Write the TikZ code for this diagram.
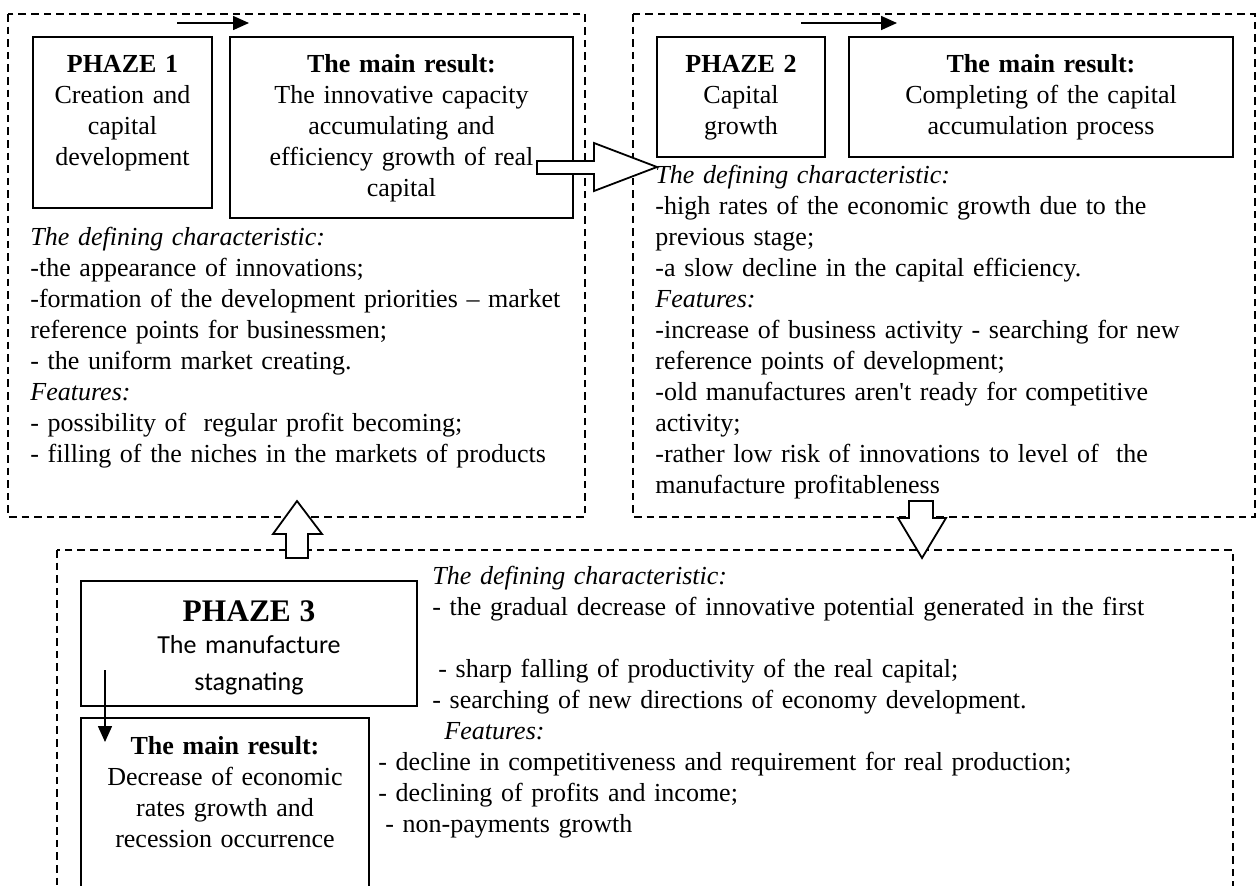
\documentclass[tikz,border=0pt]{standalone}
\usepackage{fontspec}
\setmainfont{Liberation Serif}
\newfontfamily\calfont{Carlito}
\usetikzlibrary{arrows.meta}

\tikzset{
  dashbox/.style={draw, line width=0.7pt, dash pattern=on 3.8pt off 2.5pt},
  rbox/.style={draw, line width=0.9pt, inner sep=0pt},
  txt/.style={anchor=base west, inner sep=0pt, text width=#1, align=left,
    font=\fontsize{13}{15.5}\selectfont},
  ctxt/.style={anchor=base, inner sep=0pt, text width=#1, align=center,
    font=\fontsize{13}{15.5}\selectfont},
  hollow/.style={draw, fill=white, line width=0.9pt, line join=miter},
  thin/.style={-{Triangle[length=8pt,width=7pt]}, line width=0.8pt},
}

\begin{document}
\begin{tikzpicture}[x=0.5pt, y=-0.5pt]
\clip (0,0) rectangle (1257,885);

% the three stages
\draw[dashbox] (8,14) rectangle (585,517);
\draw[dashbox] (633,14) rectangle (1255,517);
\draw[dashbox] (57,550) rectangle (1233,900);

% boxes
\node[rbox, minimum width=89.5pt, minimum height=85.5pt] (ph1) at (122.5,122.5) {};
\node[rbox, minimum width=171.5pt, minimum height=90.5pt] (res1) at (401.5,127.5) {};
\node[rbox, minimum width=84pt, minimum height=60pt] (ph2) at (741,97) {};
\node[rbox, minimum width=192pt, minimum height=60pt] (res2) at (1041,97) {};
\node[rbox, minimum width=168pt, minimum height=62.5pt] (ph3) at (249,643.5) {};
\node[rbox, minimum width=144pt, minimum height=91pt] (res3) at (225,809) {};

% small arrows
\coordinate (a1s) at (177,23); \coordinate (a1e) at (249,23);
\coordinate (a2s) at (801,23); \coordinate (a2e) at (897,23);
\coordinate (a3s) at (105,670); \coordinate (a3e) at (105,742);
\draw[thin] (a1s) -- (a1e);
\draw[thin] (a2s) -- (a2e);
\draw[thin] (a3s) -- (a3e);

% hollow arrows between stages
\draw[hollow] (537,161) -- (594,161) -- (594,143) -- (657,167) -- (594,191)
  -- (594,174) -- (537,174) -- cycle;
\draw[hollow] (909,501) -- (933,501) -- (933,518) -- (946,518) -- (922,558)
  -- (898,518) -- (909,518) -- cycle;
\draw[hollow] (286,558) -- (286,534) -- (273,534) -- (297,501) -- (322,534)
  -- (308,534) -- (308,558) -- cycle;

% box texts
\node[ctxt=85pt] (ph1t) at (122.5,72) {\textbf{PHAZE 1}\\Creation and\\capital\\development};
\node[ctxt=168pt] (res1t) at (401.5,72) {\textbf{The main result:}\\The innovative capacity\\accumulating and\\efficiency growth of real\\capital};
\node[ctxt=80pt] (ph2t) at (741,72) {\textbf{PHAZE 2}\\Capital\\growth};
\node[ctxt=188pt] (res2t) at (1041,72) {\textbf{The main result:}\\Completing of the capital\\accumulation process};
\node[ctxt=164pt] (ph3t) at (249,621) {{\fontsize{15.7}{15.5}\selectfont\bfseries PHAZE 3}\\[0.5pt]{\calfont The manufacture}\\[3pt]{\calfont stagnating}};
\node[ctxt=140pt] (res3t) at (225,754) {\textbf{The main result:}\\Decrease of economic\\rates growth and\\recession occurrence};

% descriptions
\node[txt=280pt] (desc1) at (30,245) {\textit{The defining characteristic:}\\
-the appearance of innovations;\\
-formation of the development priorities \textendash{} market\\
reference points for businessmen;\\
- the uniform market creating.\\
\textit{Features:}\\
- possibility of\ \ regular profit becoming;\\
- filling of the niches in the markets of products};

\node[txt=300pt] (desc2) at (655,183) {\textit{The defining characteristic:}\\
-high rates of the economic growth due to the\\
previous stage;\\
-a slow decline in the capital efficiency.\\
\textit{Features:}\\
-increase of business activity - searching for new\\
reference points of development;\\
-old manufactures aren\textquotesingle t ready for competitive\\
activity;\\
-rather low risk of innovations to level of\ \ the\\
manufacture profitableness};

\node[txt=390pt] (desc3) at (432,584) {\textit{The defining characteristic:}\\
- the gradual decrease of innovative potential generated in the first\\
\mbox{}\\
\hspace*{3pt}- sharp falling of productivity of the real capital;\\
- searching of new directions of economy development.\\
\hspace*{6pt}\textit{Features:}};
\node[txt=390pt] (feat3) at (378,770) {- decline in competitiveness and requirement for real production;\\
- declining of profits and income;\\
\hspace*{3.5pt}- non-payments growth};

\end{tikzpicture}
\end{document}
